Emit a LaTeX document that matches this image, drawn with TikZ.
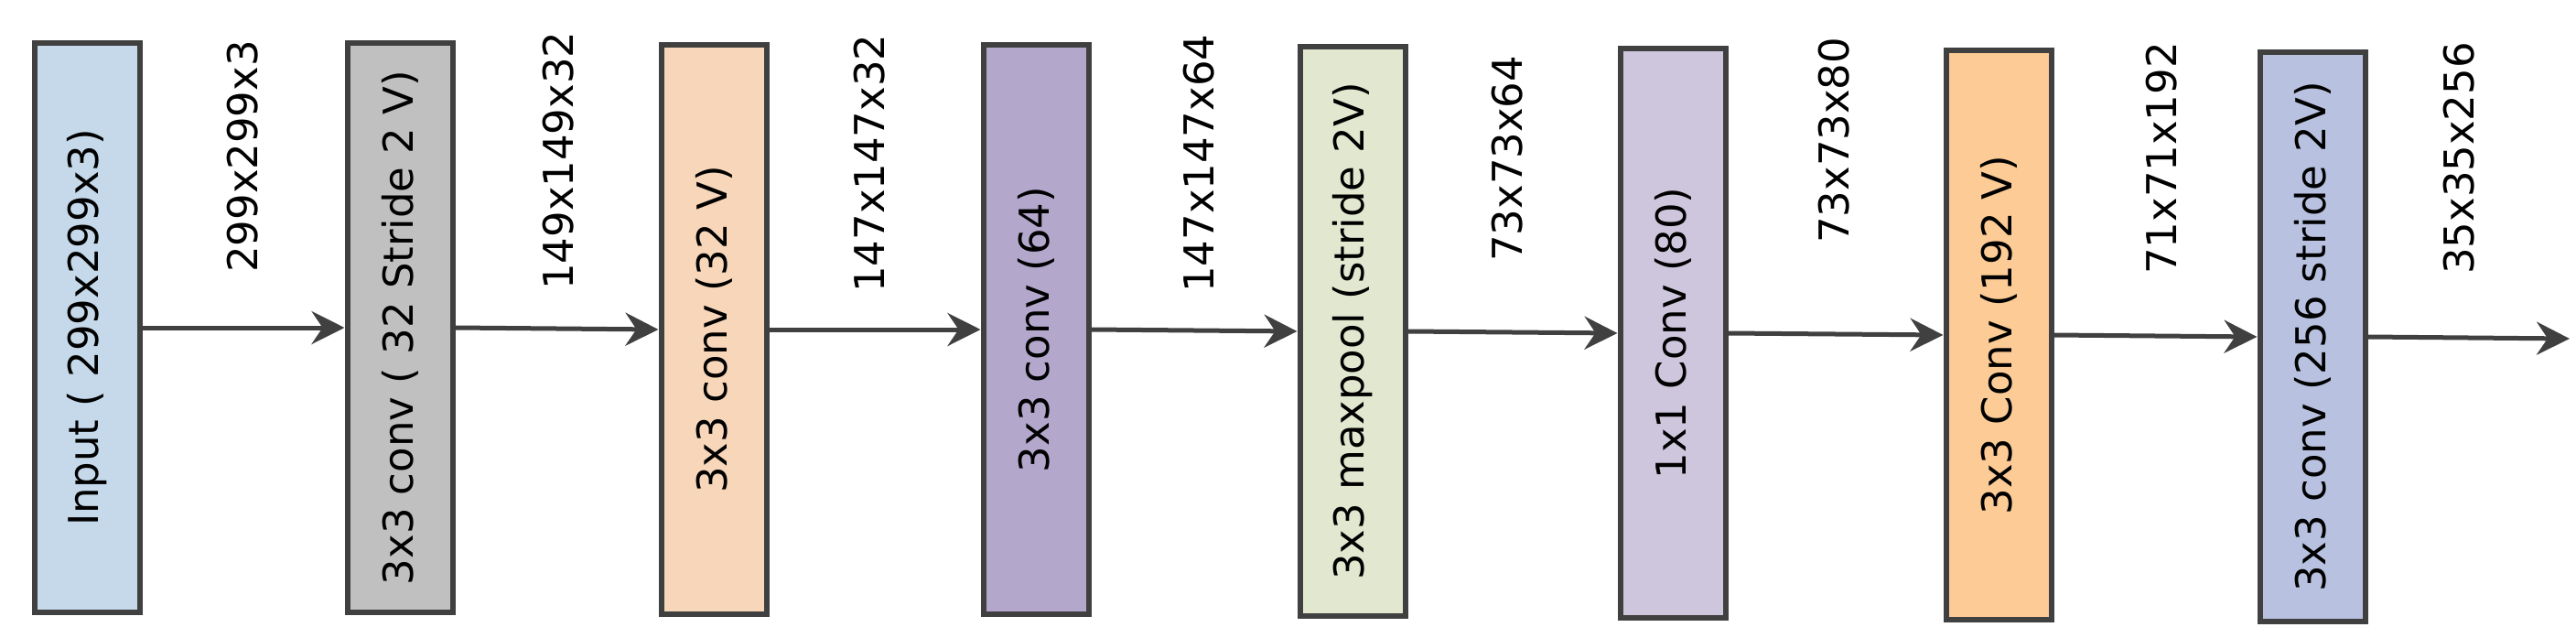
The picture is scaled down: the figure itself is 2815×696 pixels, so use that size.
\documentclass[tikz,border=0pt]{standalone}
\usepackage{fontspec}
\setmainfont{DejaVu Sans}
\usetikzlibrary{arrows.meta}
\definecolor{edge}{HTML}{404040}
\tikzset{
 blk/.style={draw=edge,line width=6pt,minimum width=622pt,minimum height=115pt,rotate=90,inner sep=0pt,anchor=center,font=\fontsize{45}{45}\selectfont,text=black},
 dim/.style={rotate=90,anchor=west,font=\fontsize{45}{45}\selectfont,inner sep=0pt},
 arr/.style={draw=edge,line width=5pt,-{Stealth[length=36pt,width=36pt,inset=12pt]}}
}
\begin{document}
\begin{tikzpicture}[x=1pt,y=1pt]
\useasboundingbox (0,0) rectangle (2815,-696);
\node[blk,fill={rgb,255:red,197;green,217;blue,234}] (b1) at (95,-358) {Input ( 299x299x3)};
\node[blk,fill={rgb,255:red,192;green,192;blue,192}] (b2) at (437,-358) {3x3 conv ( 32 Stride 2 V)};
\node[blk,fill={rgb,255:red,247;green,214;blue,186}] (b3) at (780,-360) {3x3 conv (32 V)};
\node[blk,fill={rgb,255:red,180;green,167;blue,204}] (b4) at (1132,-360) {3x3 conv (64)};
\node[blk,fill={rgb,255:red,226;green,231;blue,208}] (b5) at (1478,-362) {3x3 maxpool (stride 2V)};
\node[blk,fill={rgb,255:red,206;green,198;blue,220}] (b6) at (1828,-364) {1x1 Conv (80)};
\node[blk,fill={rgb,255:red,252;green,203;blue,150}] (b7) at (2184,-366) {3x3 Conv (192 V)};
\node[blk,fill={rgb,255:red,184;green,194;blue,224}] (b8) at (2527,-368) {3x3 conv (256 stride 2V)};
\coordinate (out) at (2808,-370);
\draw[arr] (b1.south) -- (b2.north);
\draw[arr] (b2.south) -- (b3.north);
\draw[arr] (b3.south) -- (b4.north);
\draw[arr] (b4.south) -- (b5.north);
\draw[arr] (b5.south) -- (b6.north);
\draw[arr] (b6.south) -- (b7.north);
\draw[arr] (b7.south) -- (b8.north);
\draw[arr] (b8.south) -- (out);
\node[dim] (l1) at (265,-298) {299x299x3};
\node[dim] (l2) at (610,-317) {149x149x32};
\node[dim] (l3) at (950,-320) {147x147x32};
\node[dim] (l4) at (1310,-320) {147x147x64};
\node[dim] (l5) at (1647,-286) {73x73x64};
\node[dim] (l6) at (2004,-266) {73x73x80};
\node[dim] (l7) at (2362,-300) {71x71x192};
\node[dim] (l8) at (2687,-300) {35x35x256};
\end{tikzpicture}
\end{document}
